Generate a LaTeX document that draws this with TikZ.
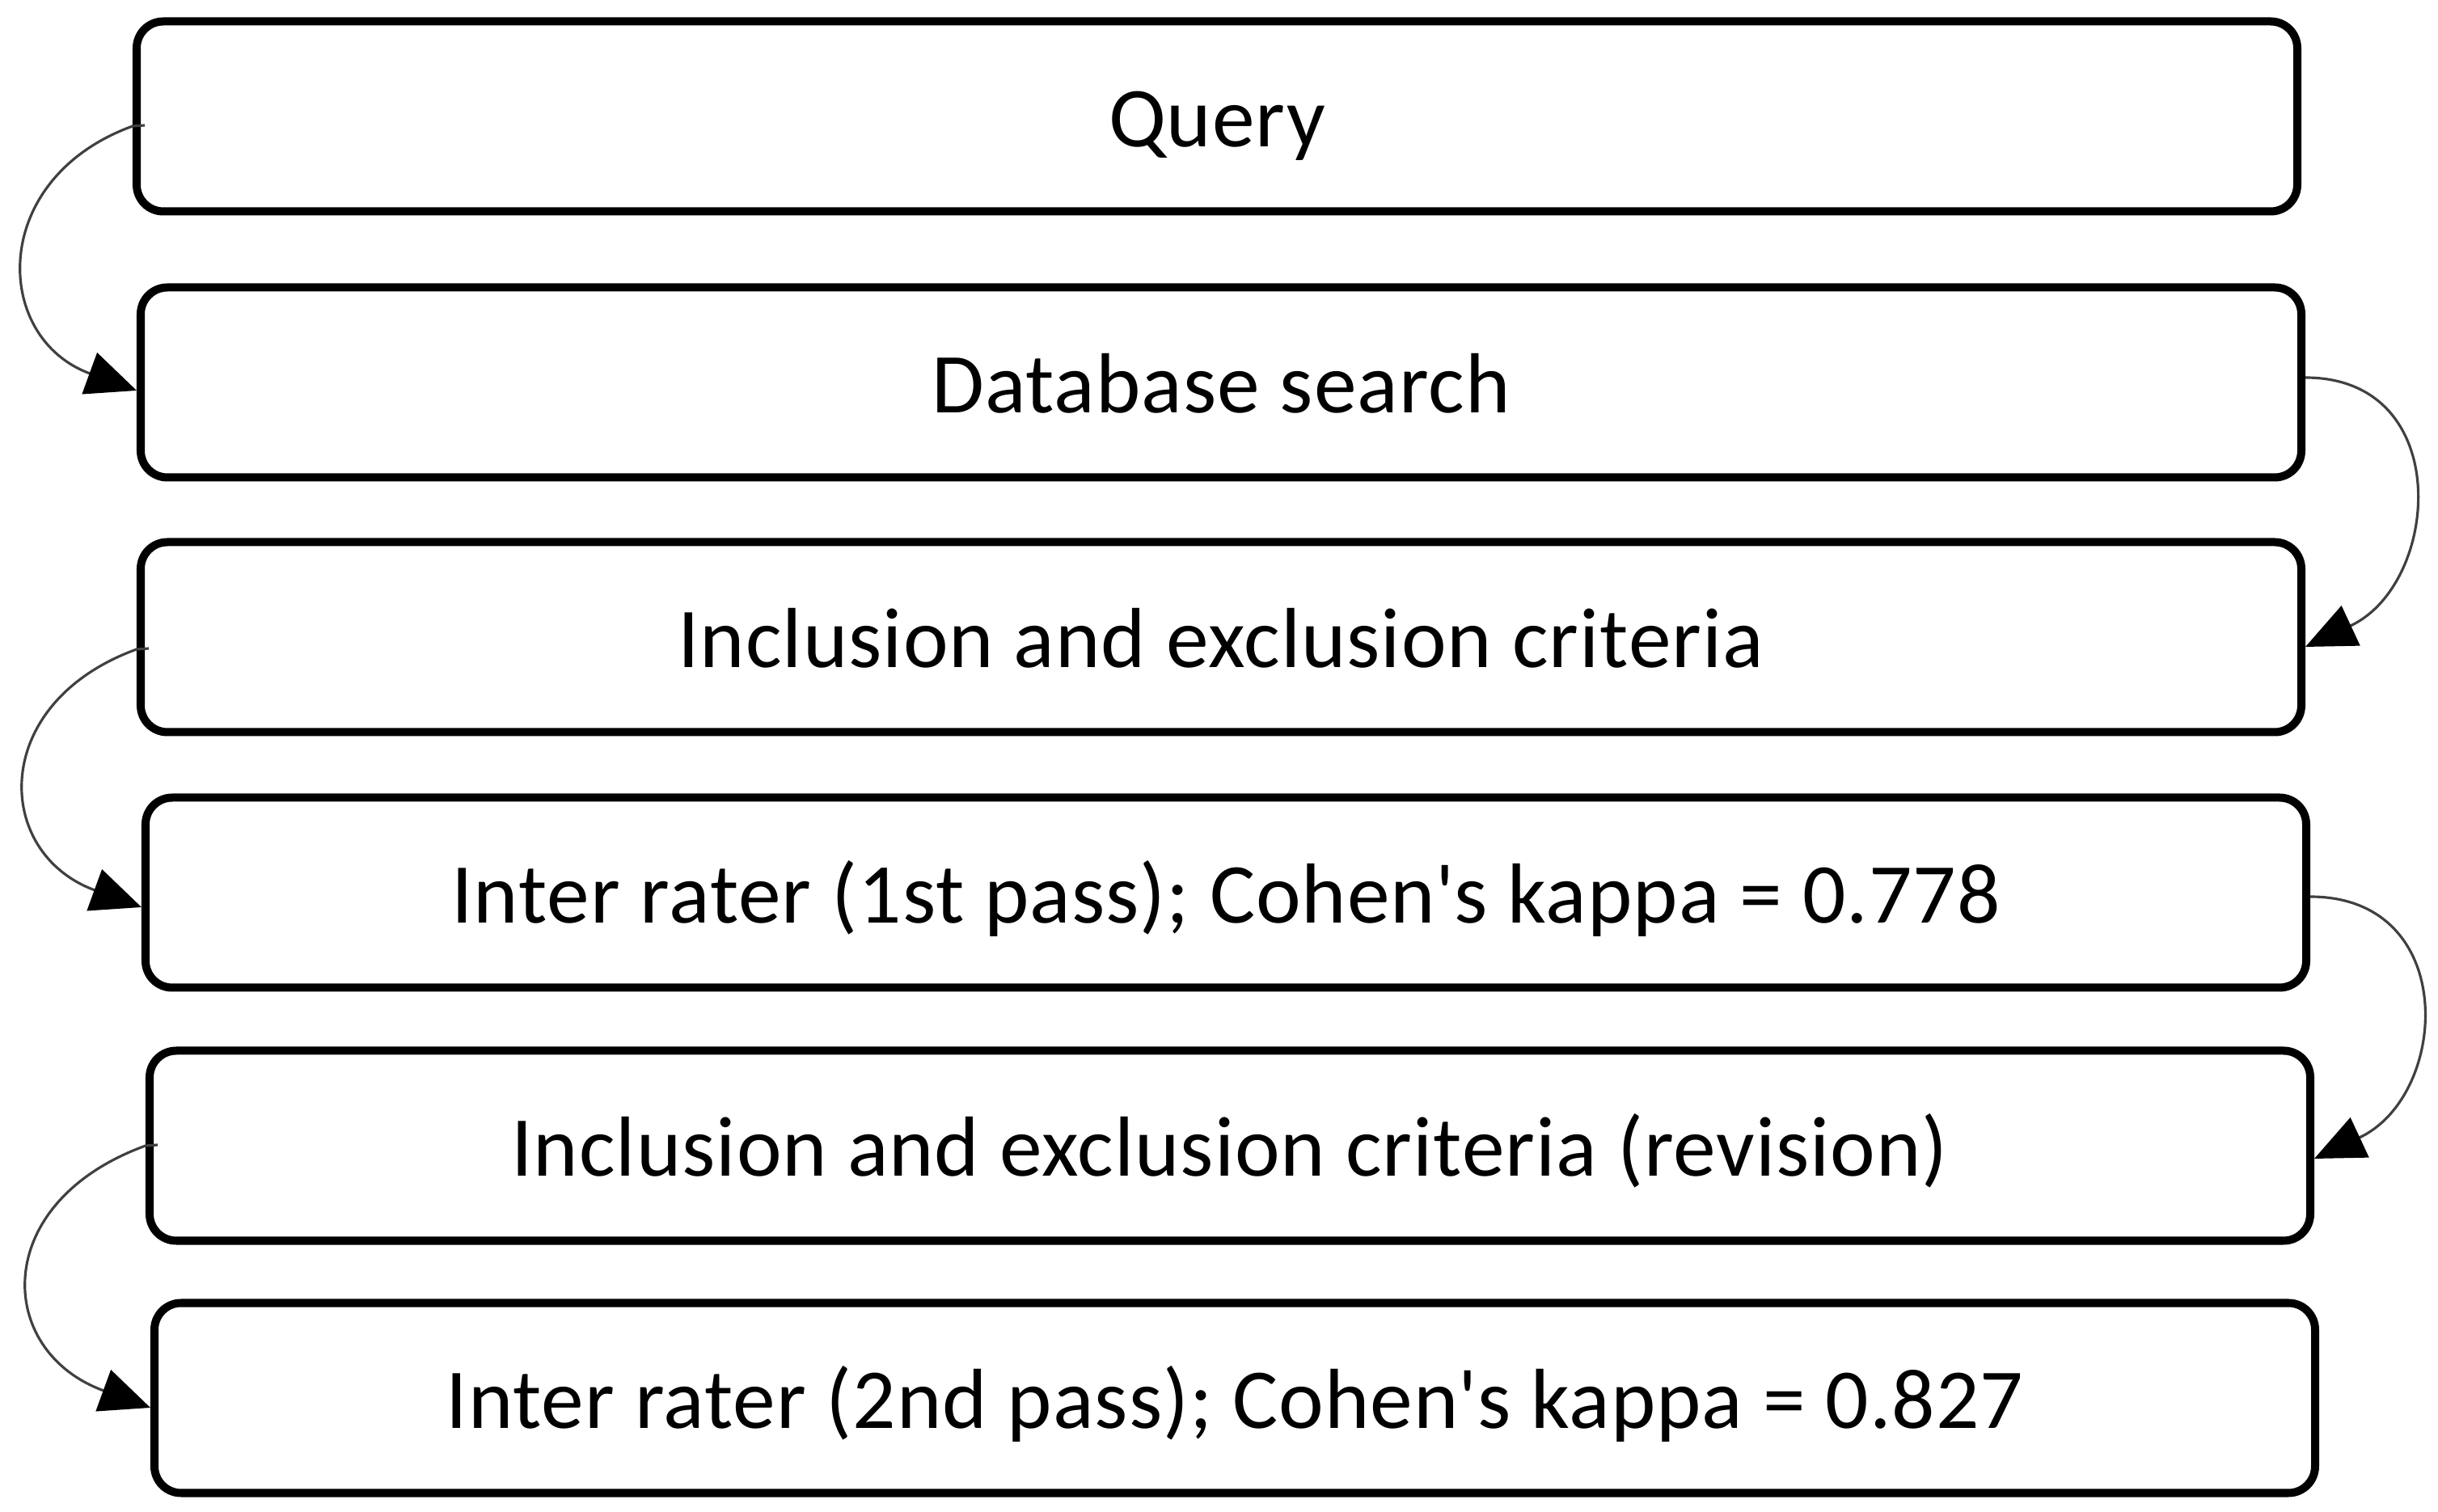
\documentclass[tikz,border=0pt]{standalone}
\usepackage{fontspec}
\setmainfont{Carlito}[LetterSpace=1.0]
\usetikzlibrary{arrows.meta,calc}
\begin{document}
\begin{tikzpicture}[
  box/.style={draw=black, line width=2.85pt, rounded corners=0.33cm, fill=white,
    minimum width=26.72cm, minimum height=2.35cm, inner sep=0pt,
    text height=0.83cm, text depth=0.07cm,
    font=\fontsize{30}{36}\selectfont},
  conn/.style={draw=black!75, line width=0.9pt,
    -{Triangle[length=0.62cm,width=0.54cm,color=black]}}
]
\useasboundingbox (0,0) rectangle (30.15,18.70);
\node[box] (q) at (15.05,17.26) {Query};
\node[box] (d) at (15.10,13.97) {Database search};
\node[box] (c) at (15.10,10.82) {Inclusion and exclusion criteria};
\node[box] (r1) at (15.16,7.66) {Inter rater (1st pass); Cohen\textquotesingle s kappa = 0.778};
\node[box] (cr) at (15.21,4.53) {Inclusion and exclusion criteria (revision)};
\node[box] (r2) at (15.27,1.41) {Inter rater (2nd pass); Cohen\textquotesingle s kappa = 0.827};

\draw[conn] ($(q.west)+(0.15,-0.11)$) -- ($(q.west)+(0,-0.12)$) .. controls +(200:1.9) and +(160:1.9) .. ($(d.west)+(0,-0.1)$);
\draw[conn] ($(d.east)+(0,0.06)$) .. controls +(0:1.85) and +(25:1.85) .. ($(c.east)+(0,-0.12)$);
\draw[conn] ($(c.west)+(0.15,-0.14)$) -- ($(c.west)+(0,-0.15)$) .. controls +(200:1.95) and +(160:1.95) .. ($(r1.west)+(0,-0.18)$);
\draw[conn] ($(r1.east)+(0,-0.05)$) .. controls +(0:1.85) and +(25:1.85) .. ($(cr.east)+(0,-0.16)$);
\draw[conn] ($(cr.west)+(0.15,0.01)$) -- ($(cr.west)+(0,0.0)$) .. controls +(200:2.05) and +(160:2.05) .. ($(r2.west)+(0,-0.12)$);
\end{tikzpicture}
\end{document}
